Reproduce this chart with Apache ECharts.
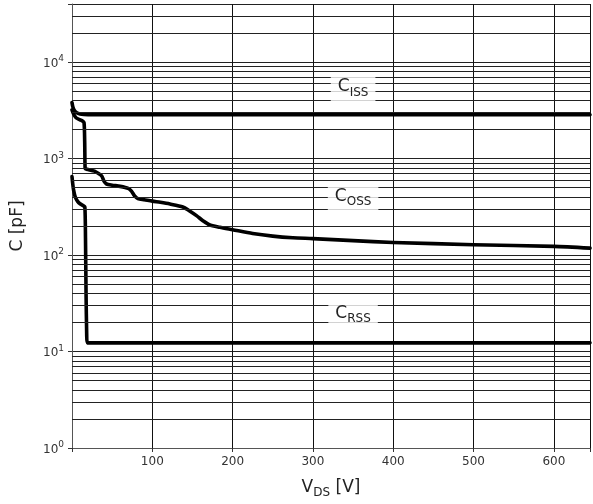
<!DOCTYPE html>
<html>
<head>
<meta charset="utf-8">
<script src="https://cdn.jsdelivr.net/npm/echarts@6/dist/echarts.min.js"></script>
<style>
html, body { margin: 0; padding: 0; background: #fff; }
#chart { width: 593px; height: 504px; }
</style>
</head>
<body>
<div id="chart"></div>
<script>
// values: V_DS [V] -> C [pF]
var cissX = [0, 1, 3, 6, 10, 15, 20, 645];
var cissY = [3800, 3450, 3150, 2980, 2900, 2860, 2850, 2850];

var cossX = [0, 2, 5, 10, 13, 15, 15.8, 16.3, 17, 20, 28, 33, 37, 40, 43, 50, 60, 70, 74, 78, 82, 90, 100, 110, 122, 138, 146, 155, 163, 171, 184, 200, 225, 250, 275, 300, 350, 400, 500, 600, 645];
var cossY = [3200, 2900, 2650, 2520, 2450, 2350, 1500, 800, 780, 770, 740, 700, 660, 580, 545, 530, 515, 490, 460, 410, 385, 375, 362, 352, 338, 315, 288, 256, 227, 206, 194, 183, 167, 157, 151, 148, 141, 135, 128, 123, 118];

var crssX = [0, 1, 2, 4, 7, 10, 14, 16, 16.8, 17.5, 18.3, 19, 645];
var crssY = [650, 540, 470, 400, 360, 340, 325, 315, 150, 40, 15, 12.3, 12.3];

// curve labels (name, subscript, V_DS, C)
var labelNames = ['C', 'C', 'C'];
var labelSubs = ['ISS', 'OSS', 'RSS'];
var labelX = [350, 350, 350];
var labelY = [5400, 395, 24];

// y range and minor grid lines (2..9 per decade)
var yMin = 1, yMax = 40000;
var minorLines = [];
for (var d = 1; d < yMax; d *= 10) {
    for (var m = 2; m <= 9; m++) {
        if (m * d < yMax) minorLines.push(m * d);
    }
}

function pairs(xs, ys) {
    var out = [];
    for (var i = 0; i < xs.length; i++) out.push([xs[i], ys[i]]);
    return out;
}

function curveLabel(i) {
    return {
        coord: [labelX[i], labelY[i]],
        symbol: 'rect',
        symbolSize: 0,
        label: {
            show: true,
            position: 'inside',
            formatter: '{c|' + labelNames[i] + '}{s|' + labelSubs[i] + '}',
            backgroundColor: 'rgba(255,255,255,0.8)',
            padding: [4, 7, 3, 7],
            rich: {
                c: { fontFamily: 'DejaVu Sans', fontSize: 17, color: '#222', verticalAlign: 'bottom', padding: [0, 0, 3, 0] },
                s: { fontFamily: 'DejaVu Sans', fontSize: 12, color: '#222', verticalAlign: 'bottom' }
            }
        }
    };
}

var lineStyle = { color: '#000', width: 3.6, cap: 'round', join: 'round' };

var chart = echarts.init(document.getElementById('chart'));
chart.setOption({
    animation: false,
    grid: { left: 72, right: 0, top: 4, bottom: 56 },
    xAxis: {
        type: 'value',
        min: 0,
        max: 645,
        interval: 100,
        name: '{v|V}{s|DS}{v| [V]}',
        nameLocation: 'middle',
        nameGap: 31,
        nameTextStyle: {
            rich: {
                v: { fontFamily: 'DejaVu Sans', fontSize: 17, color: '#222', verticalAlign: 'bottom', padding: [0, 0, 3, 0] },
                s: { fontFamily: 'DejaVu Sans', fontSize: 12, color: '#222', verticalAlign: 'bottom' }
            }
        },
        axisLine: { show: true, lineStyle: { color: '#555', width: 1 } },
        axisTick: { show: true, length: 4, lineStyle: { color: '#333' } },
        axisLabel: {
            fontFamily: 'DejaVu Sans', fontSize: 12, color: '#333', margin: 8,
            formatter: function (v) { return (v > 0 && v % 100 === 0) ? String(v) : ''; }
        },
        splitLine: { show: true, lineStyle: { color: '#111', width: 1 } }
    },
    yAxis: {
        type: 'log',
        logBase: 10,
        min: yMin,
        max: yMax,
        name: 'C [pF]',
        nameLocation: 'middle',
        nameGap: 46,
        nameTextStyle: { fontFamily: 'DejaVu Sans', fontSize: 17, color: '#222' },
        axisLine: { show: true, lineStyle: { color: '#555', width: 1 } },
        axisTick: { show: true, length: 4, lineStyle: { color: '#333' } },
        axisLabel: {
            fontFamily: 'DejaVu Sans', color: '#333', margin: 8,
            formatter: function (v) {
                var e = Math.round(Math.log10(v));
                if (Math.abs(Math.log10(v) - e) > 1e-6) return '';
                return '{b|10}{e|' + e + '}';
            },
            rich: {
                b: { fontFamily: 'DejaVu Sans', fontSize: 12, color: '#333', verticalAlign: 'bottom' },
                e: { fontFamily: 'DejaVu Sans', fontSize: 9, color: '#333', verticalAlign: 'bottom', padding: [0, 0, 6, 0] }
            }
        },
        splitLine: { show: true, lineStyle: { color: '#222', width: 1 } }
    },
    series: [
        {
            name: 'Ciss',
            type: 'line',
            data: pairs(cissX, cissY),
            showSymbol: false,
            smooth: 0.25,
            lineStyle: lineStyle,
            z: 3,
            markLine: {
                silent: true,
                symbol: 'none',
                label: { show: false },
                lineStyle: { color: '#222', width: 1, type: 'solid' },
                data: minorLines.map(function (v) { return { yAxis: v }; })
            },
            markPoint: { data: [curveLabel(0)], z: 5 }
        },
        {
            name: 'Coss',
            type: 'line',
            data: pairs(cossX, cossY),
            showSymbol: false,
            smooth: 0.25,
            lineStyle: lineStyle,
            z: 3,
            markPoint: { data: [curveLabel(1)], z: 5 }
        },
        {
            name: 'Crss',
            type: 'line',
            data: pairs(crssX, crssY),
            showSymbol: false,
            smooth: 0.25,
            lineStyle: lineStyle,
            z: 3,
            markPoint: { data: [curveLabel(2)], z: 5 }
        }
    ]
});
</script>
</body>
</html>
